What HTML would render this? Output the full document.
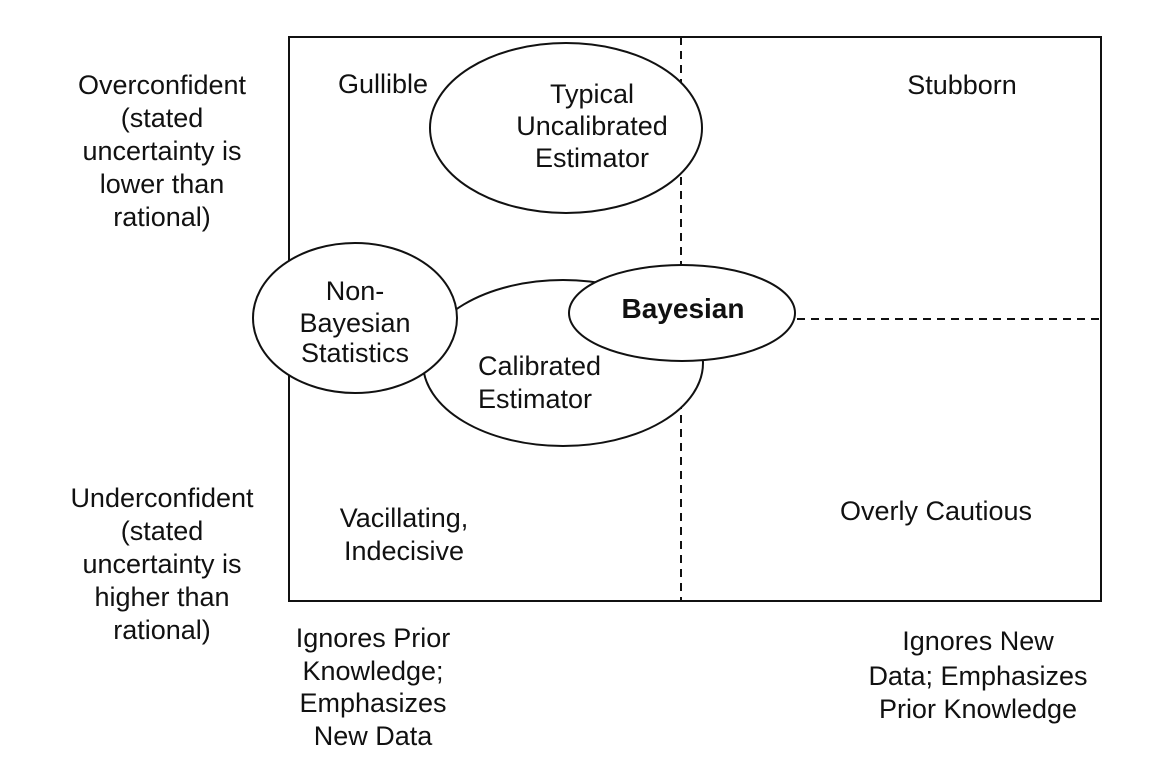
<!DOCTYPE html>
<html><head><style>body{margin:0;background:#fff}svg{display:block}</style></head><body>
<svg width="1154" height="782" viewBox="0 0 1154 782" xmlns="http://www.w3.org/2000/svg" font-family="Liberation Sans, Arial, sans-serif" font-size="27" fill="#111">
<rect x="289" y="37" width="812" height="564" fill="none" stroke="#111" stroke-width="2"/>
<line x1="681" y1="37" x2="681" y2="601" stroke="#111" stroke-width="2" stroke-dasharray="8,6"/>
<line x1="797" y1="319" x2="1101" y2="319" stroke="#111" stroke-width="2" stroke-dasharray="8,6"/>
<ellipse cx="566" cy="128" rx="136" ry="85" fill="#fff" stroke="#111" stroke-width="2"/>
<ellipse cx="563" cy="363" rx="140" ry="83" fill="#fff" stroke="#111" stroke-width="2"/>
<ellipse cx="355" cy="318" rx="102" ry="75" fill="#fff" stroke="#111" stroke-width="2"/>
<ellipse cx="682" cy="313" rx="113" ry="48" fill="#fff" stroke="#111" stroke-width="2"/>
<g text-anchor="middle" stroke="none">
<text x="592" y="103">Typical</text>
<text x="592" y="135">Uncalibrated</text>
<text x="592" y="167">Estimator</text>
<text x="355" y="300">Non-</text>
<text x="355" y="332">Bayesian</text>
<text x="355" y="362">Statistics</text>
<text x="683" y="318" font-weight="bold" font-size="28">Bayesian</text>
<text x="383" y="93">Gullible</text>
<text x="962" y="94">Stubborn</text>
<text x="936" y="520">Overly Cautious</text>
<text x="404" y="527">Vacillating,</text>
<text x="404" y="560">Indecisive</text>
<text x="162" y="94">Overconfident</text>
<text x="162" y="127">(stated</text>
<text x="162" y="160">uncertainty is</text>
<text x="162" y="193">lower than</text>
<text x="162" y="226">rational)</text>
<text x="162" y="507">Underconfident</text>
<text x="162" y="540">(stated</text>
<text x="162" y="573">uncertainty is</text>
<text x="162" y="606">higher than</text>
<text x="162" y="639">rational)</text>
<text x="373" y="647">Ignores Prior</text>
<text x="373" y="680">Knowledge;</text>
<text x="373" y="712">Emphasizes</text>
<text x="373" y="745">New Data</text>
<text x="978" y="650">Ignores New</text>
<text x="978" y="685">Data; Emphasizes</text>
<text x="978" y="718">Prior Knowledge</text>
</g>
<g stroke="none">
<text x="478" y="375">Calibrated</text>
<text x="478" y="408">Estimator</text>
</g>
</svg>
</body></html>
